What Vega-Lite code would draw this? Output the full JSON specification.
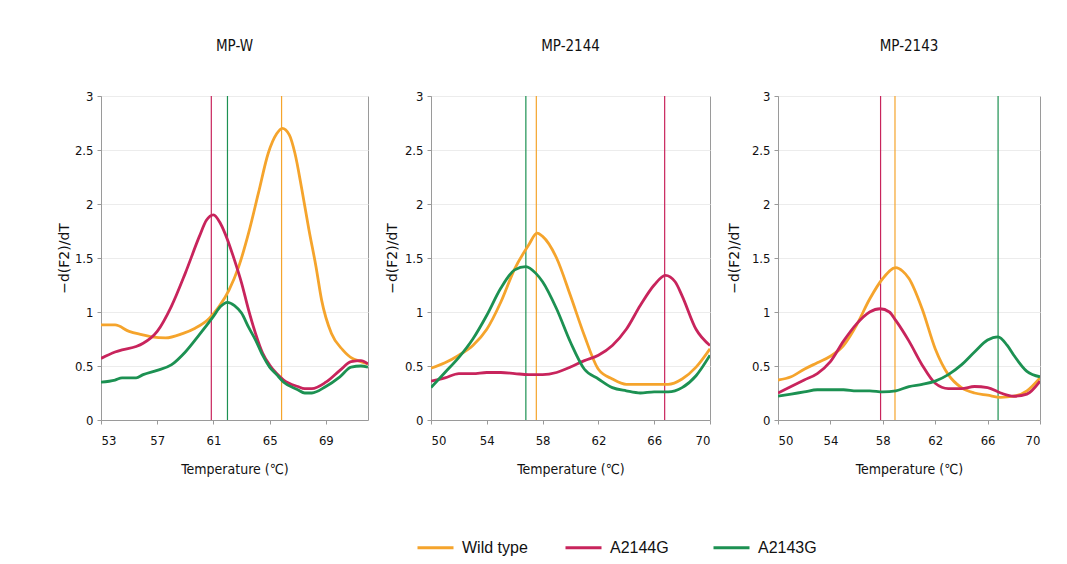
{
  "$schema": "https://vega.github.io/schema/vega-lite/v6.json",
  "padding": {"left": 56, "top": 38, "right": 5, "bottom": 5},
  "background": "white",
  "datasets": {
    "curves": [
      {"p":"MP-W","s":"Wild type","t":53,"v":0.88},{"p":"MP-W","s":"Wild type","t":54,"v":0.88},{"p":"MP-W","s":"Wild type","t":55,"v":0.82},{"p":"MP-W","s":"Wild type","t":55.9,"v":0.79},{"p":"MP-W","s":"Wild type","t":56.6,"v":0.77},{"p":"MP-W","s":"Wild type","t":57.6,"v":0.76},{"p":"MP-W","s":"Wild type","t":58.8,"v":0.8},{"p":"MP-W","s":"Wild type","t":59.7,"v":0.85},{"p":"MP-W","s":"Wild type","t":60.7,"v":0.94},{"p":"MP-W","s":"Wild type","t":61.4,"v":1.05},{"p":"MP-W","s":"Wild type","t":62.1,"v":1.2},{"p":"MP-W","s":"Wild type","t":62.8,"v":1.42},{"p":"MP-W","s":"Wild type","t":63.5,"v":1.73},{"p":"MP-W","s":"Wild type","t":64.2,"v":2.1},{"p":"MP-W","s":"Wild type","t":64.9,"v":2.47},{"p":"MP-W","s":"Wild type","t":65.5,"v":2.65},{"p":"MP-W","s":"Wild type","t":65.9,"v":2.7},{"p":"MP-W","s":"Wild type","t":66.4,"v":2.64},{"p":"MP-W","s":"Wild type","t":66.8,"v":2.47},{"p":"MP-W","s":"Wild type","t":67.3,"v":2.13},{"p":"MP-W","s":"Wild type","t":67.8,"v":1.76},{"p":"MP-W","s":"Wild type","t":68.3,"v":1.42},{"p":"MP-W","s":"Wild type","t":68.7,"v":1.11},{"p":"MP-W","s":"Wild type","t":69.4,"v":0.8},{"p":"MP-W","s":"Wild type","t":70.2,"v":0.65},{"p":"MP-W","s":"Wild type","t":70.9,"v":0.57},{"p":"MP-W","s":"Wild type","t":71.3,"v":0.55},{"p":"MP-W","s":"Wild type","t":72,"v":0.52},
      {"p":"MP-W","s":"A2144G","t":53,"v":0.57},{"p":"MP-W","s":"A2144G","t":54,"v":0.63},{"p":"MP-W","s":"A2144G","t":54.5,"v":0.65},{"p":"MP-W","s":"A2144G","t":55.5,"v":0.68},{"p":"MP-W","s":"A2144G","t":56,"v":0.71},{"p":"MP-W","s":"A2144G","t":57,"v":0.82},{"p":"MP-W","s":"A2144G","t":58,"v":1.05},{"p":"MP-W","s":"A2144G","t":59,"v":1.36},{"p":"MP-W","s":"A2144G","t":60,"v":1.7},{"p":"MP-W","s":"A2144G","t":60.5,"v":1.85},{"p":"MP-W","s":"A2144G","t":61,"v":1.9},{"p":"MP-W","s":"A2144G","t":61.5,"v":1.82},{"p":"MP-W","s":"A2144G","t":62,"v":1.67},{"p":"MP-W","s":"A2144G","t":62.5,"v":1.48},{"p":"MP-W","s":"A2144G","t":63,"v":1.27},{"p":"MP-W","s":"A2144G","t":63.5,"v":1.02},{"p":"MP-W","s":"A2144G","t":64,"v":0.8},{"p":"MP-W","s":"A2144G","t":64.5,"v":0.62},{"p":"MP-W","s":"A2144G","t":65,"v":0.51},{"p":"MP-W","s":"A2144G","t":65.5,"v":0.43},{"p":"MP-W","s":"A2144G","t":66,"v":0.37},{"p":"MP-W","s":"A2144G","t":67,"v":0.31},{"p":"MP-W","s":"A2144G","t":67.5,"v":0.29},{"p":"MP-W","s":"A2144G","t":68,"v":0.29},{"p":"MP-W","s":"A2144G","t":69,"v":0.35},{"p":"MP-W","s":"A2144G","t":70,"v":0.46},{"p":"MP-W","s":"A2144G","t":70.8,"v":0.54},{"p":"MP-W","s":"A2144G","t":71.5,"v":0.55},{"p":"MP-W","s":"A2144G","t":72,"v":0.52},
      {"p":"MP-W","s":"A2143G","t":53,"v":0.35},{"p":"MP-W","s":"A2143G","t":54,"v":0.37},{"p":"MP-W","s":"A2143G","t":54.5,"v":0.39},{"p":"MP-W","s":"A2143G","t":55.5,"v":0.39},{"p":"MP-W","s":"A2143G","t":56,"v":0.42},{"p":"MP-W","s":"A2143G","t":57,"v":0.46},{"p":"MP-W","s":"A2143G","t":58,"v":0.51},{"p":"MP-W","s":"A2143G","t":59,"v":0.63},{"p":"MP-W","s":"A2143G","t":60,"v":0.79},{"p":"MP-W","s":"A2143G","t":61,"v":0.96},{"p":"MP-W","s":"A2143G","t":61.5,"v":1.05},{"p":"MP-W","s":"A2143G","t":62,"v":1.09},{"p":"MP-W","s":"A2143G","t":62.5,"v":1.06},{"p":"MP-W","s":"A2143G","t":63,"v":0.99},{"p":"MP-W","s":"A2143G","t":63.5,"v":0.86},{"p":"MP-W","s":"A2143G","t":64,"v":0.74},{"p":"MP-W","s":"A2143G","t":64.5,"v":0.6},{"p":"MP-W","s":"A2143G","t":65,"v":0.49},{"p":"MP-W","s":"A2143G","t":65.5,"v":0.42},{"p":"MP-W","s":"A2143G","t":66,"v":0.35},{"p":"MP-W","s":"A2143G","t":67,"v":0.28},{"p":"MP-W","s":"A2143G","t":67.5,"v":0.25},{"p":"MP-W","s":"A2143G","t":68,"v":0.25},{"p":"MP-W","s":"A2143G","t":69,"v":0.31},{"p":"MP-W","s":"A2143G","t":70,"v":0.4},{"p":"MP-W","s":"A2143G","t":70.8,"v":0.49},{"p":"MP-W","s":"A2143G","t":71.5,"v":0.5},{"p":"MP-W","s":"A2143G","t":72,"v":0.49},

      {"p":"MP-2144","s":"Wild type","t":50,"v":0.48},{"p":"MP-2144","s":"Wild type","t":51,"v":0.53},{"p":"MP-2144","s":"Wild type","t":52,"v":0.6},{"p":"MP-2144","s":"Wild type","t":53,"v":0.69},{"p":"MP-2144","s":"Wild type","t":54,"v":0.84},{"p":"MP-2144","s":"Wild type","t":55,"v":1.09},{"p":"MP-2144","s":"Wild type","t":56,"v":1.4},{"p":"MP-2144","s":"Wild type","t":57,"v":1.62},{"p":"MP-2144","s":"Wild type","t":57.6,"v":1.73},{"p":"MP-2144","s":"Wild type","t":58,"v":1.7},{"p":"MP-2144","s":"Wild type","t":59,"v":1.5},{"p":"MP-2144","s":"Wild type","t":60,"v":1.15},{"p":"MP-2144","s":"Wild type","t":61,"v":0.78},{"p":"MP-2144","s":"Wild type","t":62,"v":0.47},{"p":"MP-2144","s":"Wild type","t":63,"v":0.38},{"p":"MP-2144","s":"Wild type","t":64,"v":0.33},{"p":"MP-2144","s":"Wild type","t":65,"v":0.33},{"p":"MP-2144","s":"Wild type","t":66,"v":0.33},{"p":"MP-2144","s":"Wild type","t":67,"v":0.33},{"p":"MP-2144","s":"Wild type","t":68,"v":0.38},{"p":"MP-2144","s":"Wild type","t":69,"v":0.49},{"p":"MP-2144","s":"Wild type","t":70,"v":0.66},
      {"p":"MP-2144","s":"A2144G","t":50,"v":0.36},{"p":"MP-2144","s":"A2144G","t":51,"v":0.39},{"p":"MP-2144","s":"A2144G","t":52,"v":0.43},{"p":"MP-2144","s":"A2144G","t":53,"v":0.43},{"p":"MP-2144","s":"A2144G","t":54,"v":0.44},{"p":"MP-2144","s":"A2144G","t":55,"v":0.44},{"p":"MP-2144","s":"A2144G","t":56,"v":0.43},{"p":"MP-2144","s":"A2144G","t":57,"v":0.42},{"p":"MP-2144","s":"A2144G","t":58,"v":0.42},{"p":"MP-2144","s":"A2144G","t":59,"v":0.44},{"p":"MP-2144","s":"A2144G","t":60,"v":0.49},{"p":"MP-2144","s":"A2144G","t":61,"v":0.55},{"p":"MP-2144","s":"A2144G","t":62,"v":0.6},{"p":"MP-2144","s":"A2144G","t":63,"v":0.69},{"p":"MP-2144","s":"A2144G","t":64,"v":0.84},{"p":"MP-2144","s":"A2144G","t":65,"v":1.06},{"p":"MP-2144","s":"A2144G","t":66,"v":1.25},{"p":"MP-2144","s":"A2144G","t":66.8,"v":1.34},{"p":"MP-2144","s":"A2144G","t":67.5,"v":1.28},{"p":"MP-2144","s":"A2144G","t":68,"v":1.15},{"p":"MP-2144","s":"A2144G","t":69,"v":0.84},{"p":"MP-2144","s":"A2144G","t":70,"v":0.69},
      {"p":"MP-2144","s":"A2143G","t":50,"v":0.3},{"p":"MP-2144","s":"A2143G","t":51,"v":0.44},{"p":"MP-2144","s":"A2143G","t":52,"v":0.58},{"p":"MP-2144","s":"A2143G","t":53,"v":0.75},{"p":"MP-2144","s":"A2143G","t":54,"v":0.97},{"p":"MP-2144","s":"A2143G","t":55,"v":1.22},{"p":"MP-2144","s":"A2143G","t":56,"v":1.39},{"p":"MP-2144","s":"A2143G","t":56.8,"v":1.42},{"p":"MP-2144","s":"A2143G","t":57.5,"v":1.36},{"p":"MP-2144","s":"A2143G","t":58,"v":1.28},{"p":"MP-2144","s":"A2143G","t":59,"v":1.03},{"p":"MP-2144","s":"A2143G","t":60,"v":0.72},{"p":"MP-2144","s":"A2143G","t":61,"v":0.47},{"p":"MP-2144","s":"A2143G","t":62,"v":0.38},{"p":"MP-2144","s":"A2143G","t":63,"v":0.3},{"p":"MP-2144","s":"A2143G","t":64,"v":0.27},{"p":"MP-2144","s":"A2143G","t":65,"v":0.25},{"p":"MP-2144","s":"A2143G","t":66,"v":0.26},{"p":"MP-2144","s":"A2143G","t":67,"v":0.26},{"p":"MP-2144","s":"A2143G","t":68,"v":0.3},{"p":"MP-2144","s":"A2143G","t":69,"v":0.41},{"p":"MP-2144","s":"A2143G","t":70,"v":0.6},

      {"p":"MP-2143","s":"Wild type","t":50,"v":0.37},{"p":"MP-2143","s":"Wild type","t":51,"v":0.4},{"p":"MP-2143","s":"Wild type","t":52,"v":0.47},{"p":"MP-2143","s":"Wild type","t":53,"v":0.53},{"p":"MP-2143","s":"Wild type","t":54,"v":0.59},{"p":"MP-2143","s":"Wild type","t":55,"v":0.69},{"p":"MP-2143","s":"Wild type","t":56,"v":0.88},{"p":"MP-2143","s":"Wild type","t":57,"v":1.12},{"p":"MP-2143","s":"Wild type","t":58,"v":1.31},{"p":"MP-2143","s":"Wild type","t":59,"v":1.41},{"p":"MP-2143","s":"Wild type","t":59.5,"v":1.38},{"p":"MP-2143","s":"Wild type","t":60,"v":1.31},{"p":"MP-2143","s":"Wild type","t":61,"v":1.03},{"p":"MP-2143","s":"Wild type","t":62,"v":0.66},{"p":"MP-2143","s":"Wild type","t":63,"v":0.42},{"p":"MP-2143","s":"Wild type","t":64,"v":0.3},{"p":"MP-2143","s":"Wild type","t":65,"v":0.25},{"p":"MP-2143","s":"Wild type","t":66,"v":0.23},{"p":"MP-2143","s":"Wild type","t":67,"v":0.21},{"p":"MP-2143","s":"Wild type","t":68,"v":0.22},{"p":"MP-2143","s":"Wild type","t":69,"v":0.27},{"p":"MP-2143","s":"Wild type","t":70,"v":0.39},
      {"p":"MP-2143","s":"A2144G","t":50,"v":0.25},{"p":"MP-2143","s":"A2144G","t":51,"v":0.31},{"p":"MP-2143","s":"A2144G","t":52,"v":0.37},{"p":"MP-2143","s":"A2144G","t":53,"v":0.43},{"p":"MP-2143","s":"A2144G","t":54,"v":0.54},{"p":"MP-2143","s":"A2144G","t":55,"v":0.73},{"p":"MP-2143","s":"A2144G","t":56,"v":0.89},{"p":"MP-2143","s":"A2144G","t":57,"v":1.0},{"p":"MP-2143","s":"A2144G","t":57.8,"v":1.03},{"p":"MP-2143","s":"A2144G","t":58.5,"v":1.0},{"p":"MP-2143","s":"A2144G","t":59,"v":0.92},{"p":"MP-2143","s":"A2144G","t":60,"v":0.73},{"p":"MP-2143","s":"A2144G","t":61,"v":0.51},{"p":"MP-2143","s":"A2144G","t":62,"v":0.34},{"p":"MP-2143","s":"A2144G","t":63,"v":0.29},{"p":"MP-2143","s":"A2144G","t":64,"v":0.29},{"p":"MP-2143","s":"A2144G","t":65,"v":0.31},{"p":"MP-2143","s":"A2144G","t":66,"v":0.3},{"p":"MP-2143","s":"A2144G","t":67,"v":0.25},{"p":"MP-2143","s":"A2144G","t":68,"v":0.22},{"p":"MP-2143","s":"A2144G","t":69,"v":0.24},{"p":"MP-2143","s":"A2144G","t":70,"v":0.36},
      {"p":"MP-2143","s":"A2143G","t":50,"v":0.22},{"p":"MP-2143","s":"A2143G","t":51,"v":0.24},{"p":"MP-2143","s":"A2143G","t":52,"v":0.26},{"p":"MP-2143","s":"A2143G","t":53,"v":0.28},{"p":"MP-2143","s":"A2143G","t":54,"v":0.28},{"p":"MP-2143","s":"A2143G","t":55,"v":0.28},{"p":"MP-2143","s":"A2143G","t":56,"v":0.27},{"p":"MP-2143","s":"A2143G","t":57,"v":0.27},{"p":"MP-2143","s":"A2143G","t":58,"v":0.26},{"p":"MP-2143","s":"A2143G","t":59,"v":0.27},{"p":"MP-2143","s":"A2143G","t":60,"v":0.31},{"p":"MP-2143","s":"A2143G","t":61,"v":0.33},{"p":"MP-2143","s":"A2143G","t":62,"v":0.36},{"p":"MP-2143","s":"A2143G","t":63,"v":0.42},{"p":"MP-2143","s":"A2143G","t":64,"v":0.51},{"p":"MP-2143","s":"A2143G","t":65,"v":0.63},{"p":"MP-2143","s":"A2143G","t":66,"v":0.74},{"p":"MP-2143","s":"A2143G","t":66.8,"v":0.77},{"p":"MP-2143","s":"A2143G","t":67.5,"v":0.69},{"p":"MP-2143","s":"A2143G","t":68,"v":0.6},{"p":"MP-2143","s":"A2143G","t":69,"v":0.45},{"p":"MP-2143","s":"A2143G","t":70,"v":0.4}
    ],
    "peaks": [
      {"p":"MP-W","s":"A2144G","t":60.85},{"p":"MP-W","s":"A2143G","t":62.0},{"p":"MP-W","s":"Wild type","t":65.85},
      {"p":"MP-2144","s":"A2143G","t":56.8},{"p":"MP-2144","s":"Wild type","t":57.55},{"p":"MP-2144","s":"A2144G","t":66.75},
      {"p":"MP-2143","s":"A2144G","t":57.83},{"p":"MP-2143","s":"Wild type","t":58.93},{"p":"MP-2143","s":"A2143G","t":66.8}
    ]
  },
  "hconcat": [
    {
      "width": 267, "height": 324,
      "title": "MP-W",
      "layer": [
        {"data": {"name": "peaks"}, "transform": [{"filter": "datum.p == 'MP-W'"}],
         "mark": {"type": "rule", "strokeWidth": 1.2},
         "encoding": {"x": {"field": "t", "type": "quantitative", "scale": {"domain": [53, 72], "nice": false, "zero": false}},
                      "color": {"field": "s", "type": "nominal", "title": null, "scale": {"domain": ["Wild type", "A2144G", "A2143G"], "range": ["#F5A42C", "#C8245C", "#1C9152"]}}}},
        {"data": {"name": "curves"}, "transform": [{"filter": "datum.p == 'MP-W'"}],
         "mark": {"type": "line", "strokeWidth": 2.8, "interpolate": "monotone", "clip": true},
         "encoding": {"x": {"field": "t", "type": "quantitative", "title": "Temperature (℃)", "scale": {"domain": [53, 72], "nice": false, "zero": false},
                            "axis": {"values": [53,55,57,59,61,63,65,67,69,71], "labelExpr": "(datum.value - 53) % 4 == 0 ? datum.label : ''"}},
                      "y": {"field": "v", "type": "quantitative", "title": "−d(F2)/dT", "scale": {"domain": [0, 3], "nice": false}, "axis": {"titlePadding": 3}},
                      "color": {"field": "s", "type": "nominal"},
                      "order": {"field": "t", "type": "quantitative"}}}
      ]
    },
    {
      "width": 279, "height": 324,
      "title": "MP-2144",
      "layer": [
        {"data": {"name": "peaks"}, "transform": [{"filter": "datum.p == 'MP-2144'"}],
         "mark": {"type": "rule", "strokeWidth": 1.2},
         "encoding": {"x": {"field": "t", "type": "quantitative", "scale": {"domain": [50, 70], "nice": false, "zero": false}},
                      "color": {"field": "s", "type": "nominal"}}},
        {"data": {"name": "curves"}, "transform": [{"filter": "datum.p == 'MP-2144'"}],
         "mark": {"type": "line", "strokeWidth": 2.8, "interpolate": "monotone", "clip": true},
         "encoding": {"x": {"field": "t", "type": "quantitative", "title": "Temperature (℃)", "scale": {"domain": [50, 70], "nice": false, "zero": false},
                            "axis": {"values": [50,52,54,56,58,60,62,64,66,68,70], "labelExpr": "(datum.value - 50) % 4 == 0 ? datum.label : ''"}},
                      "y": {"field": "v", "type": "quantitative", "title": "−d(F2)/dT", "scale": {"domain": [0, 3], "nice": false}, "axis": {"titlePadding": 5}},
                      "color": {"field": "s", "type": "nominal"},
                      "order": {"field": "t", "type": "quantitative"}}}
      ]
    },
    {
      "width": 262, "height": 324,
      "title": "MP-2143",
      "layer": [
        {"data": {"name": "peaks"}, "transform": [{"filter": "datum.p == 'MP-2143'"}],
         "mark": {"type": "rule", "strokeWidth": 1.2},
         "encoding": {"x": {"field": "t", "type": "quantitative", "scale": {"domain": [50, 70], "nice": false, "zero": false}},
                      "color": {"field": "s", "type": "nominal"}}},
        {"data": {"name": "curves"}, "transform": [{"filter": "datum.p == 'MP-2143'"}],
         "mark": {"type": "line", "strokeWidth": 2.8, "interpolate": "monotone", "clip": true},
         "encoding": {"x": {"field": "t", "type": "quantitative", "title": "Temperature (℃)", "scale": {"domain": [50, 70], "nice": false, "zero": false},
                            "axis": {"values": [50,52,54,56,58,60,62,64,66,68,70], "labelExpr": "(datum.value - 50) % 4 == 0 ? datum.label : ''"}},
                      "y": {"field": "v", "type": "quantitative", "title": "−d(F2)/dT", "scale": {"domain": [0, 3], "nice": false}, "axis": {"titlePadding": 10}},
                      "color": {"field": "s", "type": "nominal"},
                      "order": {"field": "t", "type": "quantitative"}}}
      ]
    }
  ],
  "spacing": 15,
  "resolve": {"scale": {"x": "independent", "y": "independent"}},
  "config": {
    "view": {"stroke": "#9a9a9a", "strokeWidth": 1},
    "title": {"font": "DejaVu Sans Condensed", "fontSize": 15, "fontWeight": "normal", "color": "#111", "offset": 36, "anchor": "middle"},
    "axis": {"labelFont": "DejaVu Sans Condensed", "labelFontSize": 13, "labelColor": "#111", "titleFont": "DejaVu Sans Condensed", "titleFontSize": 14, "titleFontWeight": "normal", "titleColor": "#111",
             "domainColor": "#9a9a9a", "tickColor": "#9a9a9a", "tickSize": 4},
    "axisX": {"grid": false, "titlePadding": 15, "labelPadding": 10},
    "axisY": {"values": [0, 0.5, 1, 1.5, 2, 2.5, 3], "format": "~g", "gridColor": "#ececec", "titleFont": "DejaVu Sans", "titleFontSize": 14, "labelPadding": 4},
    "legend": {"orient": "none", "legendX": 315, "legendY": 432, "direction": "horizontal", "columns": 3, "gridAlign": "all",
               "symbolType": "stroke", "symbolSize": 1296, "symbolStrokeWidth": 3, "labelFont": "Liberation Sans", "labelFontSize": 16, "labelColor": "#111",
               "labelOffset": 7, "columnPadding": 31, "padding": 0}
  }
}
